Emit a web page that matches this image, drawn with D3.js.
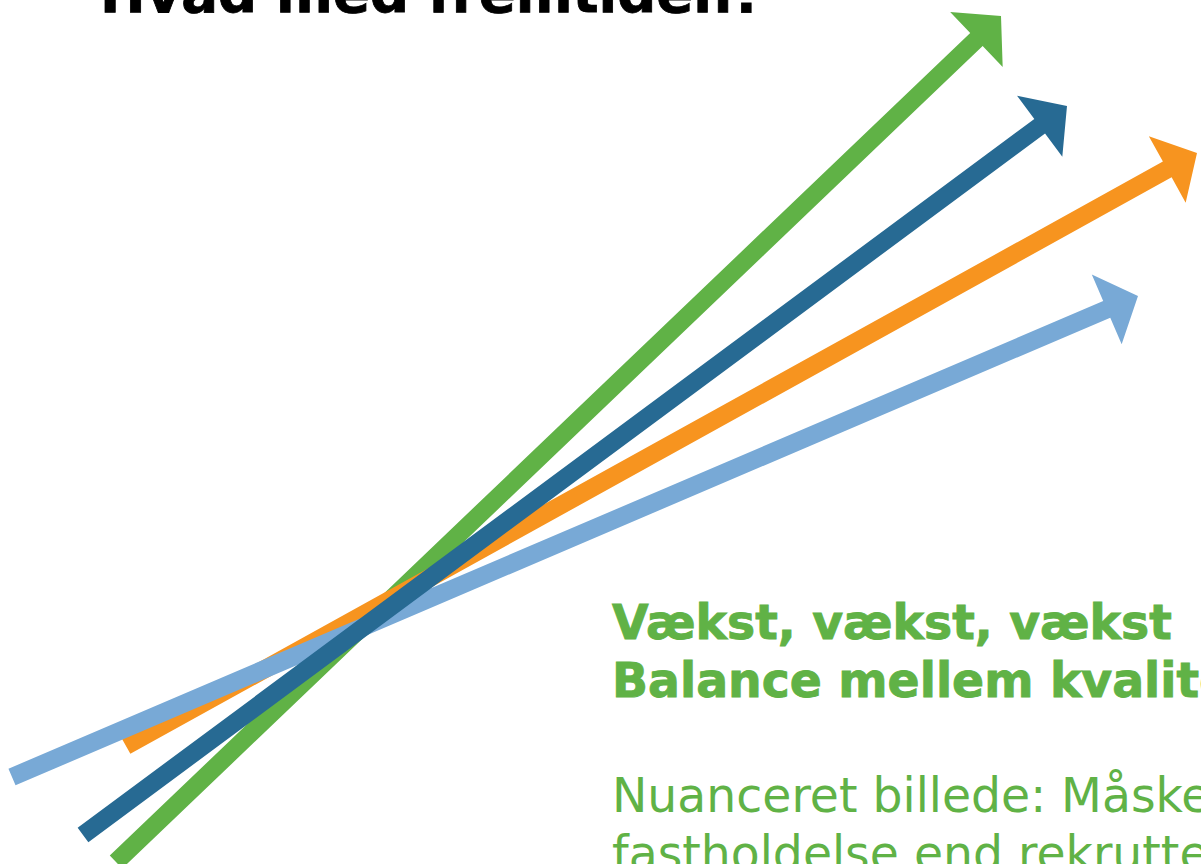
<!doctype html>
<html lang="en">
<head>
  <meta charset="utf-8">
  <title>Hvad med fremtiden?</title>
  <script src="https://d3js.org/d3.v7.min.js"></script>
  <style>
    body {
      margin: 0px;
      width: 1201px;
      height: 864px;
      overflow: hidden;
      background: #fff;
    }
  </style>
</head>
<body>
    <div id="container"></div>

    <script>
        // arrows, drawn bottom layer first
        var arrowNames = ["green", "orange", "lightblue", "darkblue"];
        var arrowColors = ["#60b246", "#f7941f", "#78a9d6", "#276a93"];
        var tailX = [116, 126, 12, 83];
        var tailY = [862, 746, 777, 835];
        var tipX = [1001, 1197, 1138, 1067];
        var tipY = [16, 153, 296, 106];

        var titleText = "Hvad med fremtiden?";
        var boldLines = ["Vækst, vækst, vækst", "Balance mellem kvalitet og kvantitet"];
        var plainLines = ["Nuanceret billede: Måske mere fokus på", "fastholdelse end rekruttering"];

        var width = 1201, height = 864;
        var green = "#60b246";

        var svg = d3.select('div#container').append('svg')
            .attr('width', width)
            .attr('height', height);

        // slide coordinates -> screen
        var x = d3.scaleLinear().domain([0, 1201]).range([0, width]);
        var y = d3.scaleLinear().domain([0, 864]).range([0, height]);

        var shaft = 18,      // shaft thickness
            headLen = 34,    // head length
            headHalf = 38;   // half of head span

        function arrowPath(i) {
            var x0 = x(tailX[i]), y0 = y(tailY[i]),
                x1 = x(tipX[i]), y1 = y(tipY[i]);
            var len = Math.hypot(x1 - x0, y1 - y0);
            var ux = (x1 - x0) / len, uy = (y1 - y0) / len;
            var px = -uy, py = ux;
            var bx = x1 - ux * headLen, by = y1 - uy * headLen;
            var h = shaft / 2;
            var pts = [
                [x0 + px * h, y0 + py * h],
                [bx + px * h, by + py * h],
                [bx + px * headHalf, by + py * headHalf],
                [x1, y1],
                [bx - px * headHalf, by - py * headHalf],
                [bx - px * h, by - py * h],
                [x0 - px * h, y0 - py * h]
            ];
            return d3.line()(pts) + "Z";
        }

        svg.append("g")
            .selectAll("path")
            .data(arrowNames)
            .enter()
            .append("path")
                .attr("d", function(d, i) { return arrowPath(i); })
                .attr("fill", function(d, i) { return arrowColors[i]; });

        // title, cut off at the top edge
        var title = svg.append("text")
            .attr("x", 100)
            .attr("y", 12)
            .style("font-family", "'DejaVu Sans', Verdana, sans-serif")
            .style("font-weight", "bold")
            .style("font-size", "56px")
            .attr("fill", "#000")
            .attr("stroke", "#000")
            .attr("stroke-width", 0.8)
            .text(titleText);
        var tw = title.node().getComputedTextLength();
        title.style("font-size", (56 * 664 / tw) + "px");

        // green text block
        var bold = svg.append("g")
            .selectAll("text")
            .data(boldLines)
            .enter()
            .append("text")
                .attr("x", 612)
                .attr("y", function(d, i) { return 639 + i * 58; })
                .style("font-family", "'DejaVu Sans', Verdana, sans-serif")
                .style("font-weight", "bold")
                .style("font-size", "48px")
                .attr("fill", green)
                .attr("stroke", green)
                .attr("stroke-width", 0.9)
                .text(function(d) { return d; });

        // stretch so the first line spans the same width as in the slide
        var bw = bold.nodes()[0].getComputedTextLength();
        var ratio = 560 / bw;
        bold.attr("transform", "translate(612,0) scale(" + ratio + ",1) translate(-612,0)");

        var plain = svg.append("g")
            .selectAll("text")
            .data(plainLines)
            .enter()
            .append("text")
                .attr("x", 612)
                .attr("y", function(d, i) { return 812 + i * 58; })
                .style("font-family", "'DejaVu Sans', Verdana, sans-serif")
                .style("font-size", "48px")
                .attr("fill", green)
                .text(function(d) { return d; });
        plain.attr("transform", "translate(612,0) scale(" + ratio + ",1) translate(-612,0)");
    </script>
</body>
</html>
